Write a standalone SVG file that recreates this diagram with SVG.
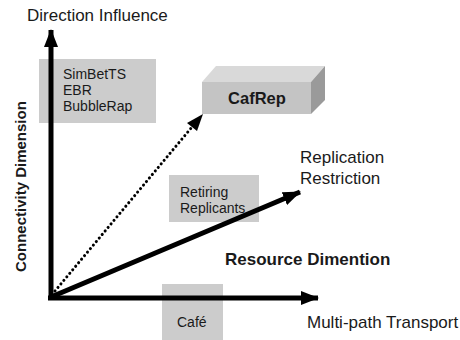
<svg xmlns="http://www.w3.org/2000/svg" width="460" height="340" viewBox="0 0 460 340">
  <style>
    text { font-family: "Liberation Sans", Arial, sans-serif; fill: #1a1a1a; }
    .box { fill: #cccccc; }
    .small { font-size: 14px; }
    .label { font-size: 17px; }
    .bold { font-weight: bold; }
    .axis { stroke: #000; stroke-width: 5; fill: none; }
    .dots { stroke: #000; stroke-width: 3; stroke-dasharray: 0.1 4.5; stroke-linecap: round; fill: none; }
  </style>
  <defs>
    <marker id="head" markerUnits="userSpaceOnUse" markerWidth="18" markerHeight="14" refX="17" refY="7" orient="auto">
      <path d="M0,0 L18,7 L0,14 z" fill="#000"/>
    </marker>
  </defs>
  <rect width="460" height="340" fill="#fff"/>

  <!-- Category boxes -->
  <g id="social">
    <rect class="box" x="39" y="59" width="117" height="64"/>
    <text class="small" x="63" y="79">SimBetTS</text>
    <text class="small" x="63" y="95">EBR</text>
    <text class="small" x="63" y="111">BubbleRap</text>
  </g>
  <g id="retiring">
    <rect class="box" x="169" y="175" width="90" height="47"/>
    <text class="small" x="180" y="197">Retiring</text>
    <text class="small" x="180" y="213">Replicants</text>
  </g>
  <g id="cafe">
    <rect class="box" x="162" y="284" width="61" height="56"/>
    <text class="small" x="177" y="327">Café</text>
  </g>

  <!-- Axes and dimension arrows -->
  <g id="connectors">
    <line class="axis" x1="51" y1="300" x2="51" y2="30" marker-end="url(#head)"/>
    <line class="axis" x1="48" y1="298" x2="318" y2="298" marker-end="url(#head)"/>
    <line class="axis" x1="51" y1="297" x2="300" y2="192" marker-end="url(#head)"/>
    <line class="dots" x1="55" y1="291" x2="192" y2="127"/>
    <path d="M203,114 L197,131 L187,123 z" fill="#000"/>
  </g>

  <!-- Combined approach -->
  <g id="cafrep">
    <polygon points="202,82 216,66 325,66 311,82" fill="#d9d9d9"/>
    <polygon points="311,82 325,66 325,100 311,114" fill="#9a9a9a"/>
    <rect x="202" y="82" width="109" height="32" fill="#c4c4c4"/>
    <text class="bold" x="257" y="104" font-size="16.5" text-anchor="middle">CafRep</text>
  </g>

  <!-- Axis labels -->
  <g id="labels">
    <text class="label" x="27" y="21">Direction Influence</text>
    <text class="label" x="300" y="163">Replication</text>
    <text class="label" x="300" y="184">Restriction</text>
    <text class="label bold" x="225" y="265">Resource Dimention</text>
    <text class="label" x="307" y="328">Multi-path Transport</text>
    <text class="bold" font-size="15" transform="translate(26,272) rotate(-90)">Connectivity Dimension</text>
  </g>
</svg>
